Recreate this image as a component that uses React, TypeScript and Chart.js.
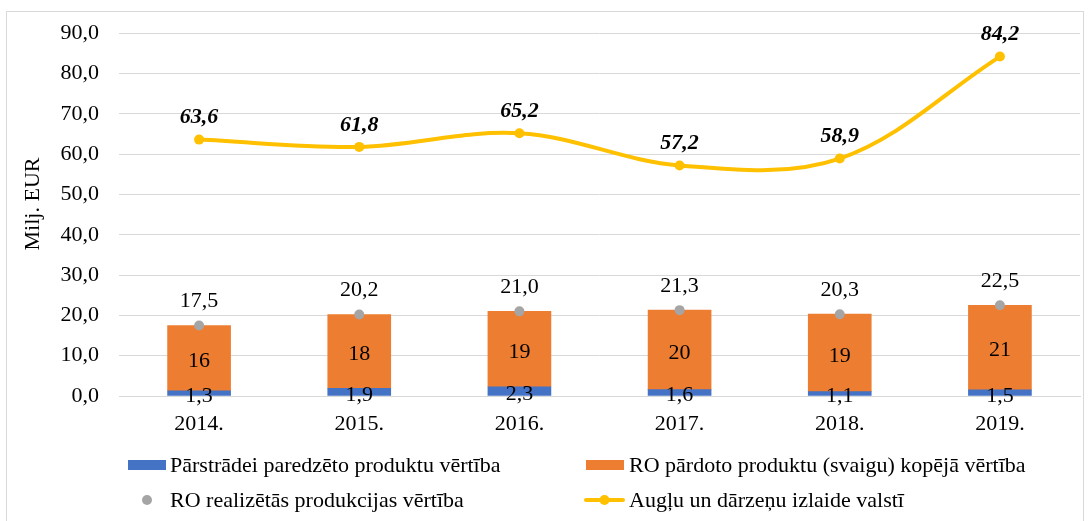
import React, { useEffect, useRef } from "react";
import { Chart, registerables } from "chart.js";

Chart.register(...registerables);

const categories = ["2014.", "2015.", "2016.", "2017.", "2018.", "2019."];
const processedValues = [1.3, 1.9, 2.3, 1.6, 1.1, 1.5];
const freshValues = [16.2, 18.3, 18.7, 19.7, 19.2, 21.0];
const realizedValues = [17.5, 20.2, 21.0, 21.3, 20.3, 22.5];
const outputValues = [63.6, 61.8, 65.2, 57.2, 58.9, 84.2];
const yTicks = [0, 10, 20, 30, 40, 50, 60, 70, 80, 90];

const seriesNames = [
  "Pārstrādei paredzēto produktu vērtība",
  "RO pārdoto produktu (svaigu) kopējā vērtība",
  "RO realizētās produkcijas vērtība",
  "Augļu un dārzeņu izlaide valstī",
];
const yTitle = "Milj. EUR";

const BLUE = "#4472C4";
const ORANGE = "#ED7D31";
const GREY = "#A5A5A5";
const YELLOW = "#FFC000";
const FONT = '"Liberation Serif", "Times New Roman", serif';
const FS = 22;

const fmt1 = (v: number) => v.toFixed(1).replace(".", ",");

const labelsPlugin = {
  id: "customLabels",
  beforeDraw(chart: any) {
    const ctx = chart.ctx;
    ctx.save();
    ctx.strokeStyle = "#D9D9D9";
    ctx.lineWidth = 1;
    ctx.strokeRect(6.5, 11.5, 1077, 530);
    ctx.restore();
  },
  afterDatasetsDraw(chart: any) {
    const ctx = chart.ctx;
    ctx.save();
    ctx.fillStyle = "#000";
    ctx.textAlign = "center";
    ctx.textBaseline = "middle";
    ctx.font = `${FS}px ${FONT}`;
    const m0 = chart.getDatasetMeta(0);
    m0.data.forEach((el: any, i: number) => {
      const y = (el.y + el.base) / 2 + 3;
      ctx.fillText(fmt1(processedValues[i]), el.x, y);
    });
    const m1 = chart.getDatasetMeta(1);
    m1.data.forEach((el: any, i: number) => {
      const y = (el.y + el.base) / 2 + 3;
      ctx.fillText(String(Math.round(freshValues[i])), el.x, y);
    });
    const m2 = chart.getDatasetMeta(2);
    m2.data.forEach((el: any, i: number) => {
      ctx.fillText(fmt1(realizedValues[i]), el.x, el.y - 24);
    });
    ctx.font = `italic bold ${FS}px ${FONT}`;
    const m3 = chart.getDatasetMeta(3);
    m3.data.forEach((el: any, i: number) => {
      ctx.fillText(fmt1(outputValues[i]), el.x, el.y - 22);
    });
    ctx.restore();
  },
  afterDraw(chart: any) {
    const ctx = chart.ctx;
    ctx.save();
    ctx.save();
    ctx.translate(33, 204);
    ctx.rotate(-Math.PI / 2);
    ctx.font = `${FS}px ${FONT}`;
    ctx.fillStyle = "#000";
    ctx.textAlign = "center";
    ctx.textBaseline = "middle";
    ctx.fillText(yTitle, 0, 0);
    ctx.restore();

    ctx.font = `${FS}px ${FONT}`;
    ctx.textAlign = "left";
    ctx.textBaseline = "middle";
    const row1 = 465;
    const row2 = 500;
    ctx.fillStyle = BLUE;
    ctx.fillRect(128, row1 - 5, 38, 10);
    ctx.fillStyle = "#000";
    ctx.fillText(seriesNames[0], 170, row1 + 1);
    ctx.fillStyle = ORANGE;
    ctx.fillRect(586, row1 - 5, 38, 10);
    ctx.fillStyle = "#000";
    ctx.fillText(seriesNames[1], 629, row1 + 1);
    ctx.fillStyle = GREY;
    ctx.beginPath();
    ctx.arc(147, row2, 5, 0, Math.PI * 2);
    ctx.fill();
    ctx.fillStyle = "#000";
    ctx.fillText(seriesNames[2], 170, row2 + 1);
    ctx.strokeStyle = YELLOW;
    ctx.lineWidth = 4;
    ctx.lineCap = "round";
    ctx.beginPath();
    ctx.moveTo(586, row2);
    ctx.lineTo(623, row2);
    ctx.stroke();
    ctx.fillStyle = YELLOW;
    ctx.beginPath();
    ctx.arc(604.5, row2, 5, 0, Math.PI * 2);
    ctx.fill();
    ctx.fillStyle = "#000";
    ctx.fillText(seriesNames[3], 629, row2 + 1);
    ctx.restore();
  },
};

export default function App() {
  const ref = useRef<HTMLCanvasElement | null>(null);
  useEffect(() => {
    document.body.style.margin = "0";
    if (!ref.current) return;
    const chart = new Chart(ref.current, {
      type: "bar",
      data: {
        labels: categories,
        datasets: [
          {
            type: "bar",
            label: seriesNames[0],
            data: processedValues,
            backgroundColor: BLUE,
            barThickness: 63,
            stack: "bars",
            order: 3,
          } as any,
          {
            type: "bar",
            label: seriesNames[1],
            data: freshValues,
            backgroundColor: ORANGE,
            barThickness: 63,
            stack: "bars",
            order: 3,
          } as any,
          {
            type: "line",
            label: seriesNames[2],
            data: realizedValues,
            showLine: false,
            pointRadius: 5,
            pointBorderWidth: 0,
            pointBackgroundColor: GREY,
            borderColor: GREY,
            backgroundColor: GREY,
            stack: "grey",
            order: 1,
          } as any,
          {
            type: "line",
            label: seriesNames[3],
            data: outputValues,
            borderColor: YELLOW,
            backgroundColor: YELLOW,
            borderWidth: 4,
            pointRadius: 5,
            pointBorderWidth: 0,
            pointBackgroundColor: YELLOW,
            tension: 0.35,
            stack: "yellow",
            order: 0,
          } as any,
        ],
      },
      options: {
        animation: false,
        responsive: true,
        maintainAspectRatio: false,
        layout: { padding: { top: 33, right: 9, left: 0, bottom: 0 } },
        plugins: { legend: { display: false }, tooltip: { enabled: false } },
        scales: {
          x: {
            stacked: true,
            grid: { display: false, drawTicks: false },
            border: { display: true, color: "#D9D9D9", width: 1 },
            ticks: { color: "#000", font: { family: FONT, size: FS }, padding: 15 },
            afterFit: (s: any) => {
              s.height = 125;
            },
          },
          y: {
            stacked: true,
            min: 0,
            max: 90,
            afterBuildTicks: (s: any) => {
              s.ticks = yTicks.map((v) => ({ value: v }));
            },
            grid: { color: "#D9D9D9", lineWidth: 1, drawTicks: false },
            border: { display: false },
            ticks: {
              color: "#000",
              font: { family: FONT, size: FS },
              padding: 20,
              callback: (v: any) => fmt1(Number(v)),
            },
            afterFit: (s: any) => {
              s.width = 119;
            },
          },
        },
      },
      plugins: [labelsPlugin],
    });
    return () => chart.destroy();
  }, []);
  return (
    <div style={{ width: 1089, height: 521, position: "relative" }}>
      <canvas ref={ref} />
    </div>
  );
}
